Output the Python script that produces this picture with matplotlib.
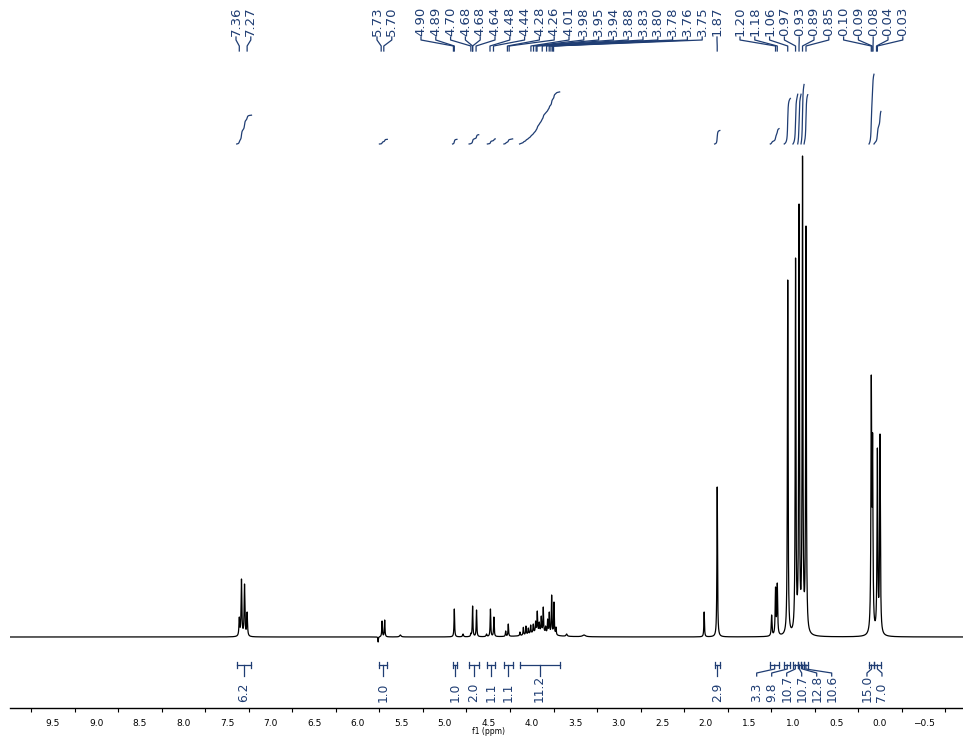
import matplotlib.pyplot as plt
import numpy as np

# 1H NMR peaks: position (ppm), apparent height, half width (ppm)
peak_ppm = [7.36, 7.335, 7.30, 7.27,
            5.765, 5.72, 5.69, 5.51,
            4.89, 4.79, 4.70, 4.68, 4.635, 4.52, 4.475, 4.435, 4.30, 4.27,
            4.136, 4.097, 4.067, 4.040, 4.013, 3.983, 3.956, 3.937, 3.914,
            3.891, 3.868, 3.841, 3.818, 3.799, 3.772, 3.745, 3.722, 3.60, 3.40,
            2.02, 1.87,
            1.245, 1.20, 1.18, 1.06, 0.97, 0.93, 0.89, 0.85,
            0.10, 0.085, 0.03, 0.00]
peak_height = [20, 58, 53, 25,
               -5, 16, 17, 2,
               28, 3, 4, 31, 27, 3, 28, 20, 6, 13,
               5, 9.7, 11, 9, 12, 13, 16, 26, 15,
               21, 30, 11, 18, 25, 42, 35, 10, 3, 2,
               25, 150,
               22, 50, 54, 357, 379, 433, 481, 411,
               262, 204, 189, 203]
peak_hwhm = [0.005, 0.005, 0.005, 0.005,
             0.003, 0.004, 0.004, 0.01,
             0.004, 0.006, 0.004, 0.004, 0.004, 0.006, 0.004, 0.004, 0.004, 0.004,
             0.004, 0.004, 0.004, 0.004, 0.004, 0.004, 0.004, 0.004, 0.004,
             0.004, 0.004, 0.004, 0.004, 0.004, 0.004, 0.004, 0.004, 0.008, 0.02,
             0.004, 0.004,
             0.005, 0.005, 0.005, 0.0045, 0.0045, 0.0045, 0.0045, 0.0045,
             0.005, 0.005, 0.005, 0.005]

# broad hump under the 3.7-4.1 multiplets
hump_ppm, hump_height, hump_hwhm = 3.92, 5.0, 0.12

# peak picking labels, in the groups they are fanned out in
peak_groups = [
    ["7.36", "7.27"],
    ["5.73", "5.70"],
    ["4.90", "4.89", "4.70", "4.68", "4.68", "4.64", "4.48", "4.44", "4.28", "4.26",
     "4.01", "3.98", "3.95", "3.94", "3.88", "3.83", "3.80", "3.78", "3.76", "3.75", "1.87"],
    ["1.20", "1.18", "1.06", "0.97", "0.93", "0.89", "0.85",
     "0.10", "0.09", "0.08", "0.04", "0.03"],
]

# integration regions (ppm) and values
int_from = [7.39, 5.75, 4.91, 4.72, 4.51, 4.32, 4.14, 1.90, 1.26, 1.10, 1.00, 0.945, 0.907, 0.872, 0.126, 0.069]
int_to = [7.22, 5.66, 4.86, 4.61, 4.42, 4.22, 3.68, 1.84, 1.16, 1.03, 0.945, 0.907, 0.872, 0.83, 0.069, -0.01]
int_value = [6.2, 1.0, 1.0, 2.0, 1.1, 1.1, 11.2, 2.9, 3.3, 9.8, 10.7, 10.7, 12.8, 10.6, 15.0, 7.0]

navy = "#1f3d73"
W, H = 963, 738
x_left, x_right = 9.994, -0.9535
ppp = 953 / (x_left - x_right)   # pixels per ppm
base = 637                        # baseline, pixels from top


def Y(ypix):
    return base - ypix


def to_px(p):
    return 10 + (x_left - p) * ppp


def to_ppm(px):
    return x_left - (px - 10) / ppp


def lor(x, c, w):
    return w**2 / ((x - c)**2 + w**2)


def spread(targets, gap):
    # push overlapping labels apart, each cluster centred on its targets
    clusters = [[t] for t in targets]
    changed = True
    while changed:
        changed = False
        pos = []
        for c in clusters:
            m = np.mean(c)
            pos.append([m + (i - (len(c) - 1) / 2) * gap for i in range(len(c))])
        for k in range(len(clusters) - 1):
            if pos[k][-1] + gap > pos[k + 1][0] + 1e-9:
                clusters[k] = clusters[k] + clusters.pop(k + 1)
                changed = True
                break
    out = []
    for c in clusters:
        m = np.mean(c)
        out += [m + (i - (len(c) - 1) / 2) * gap for i in range(len(c))]
    return out


# build the spectrum so that the peak tops sit at the read heights
pk = np.array(peak_ppm)
wd = np.array(peak_hwhm)
M = lor(pk[:, None], pk[None, :], wd[None, :])
target = np.array(peak_height) - hump_height * lor(pk, hump_ppm, hump_hwhm)
amps = np.linalg.solve(M, target)

ppm = np.linspace(10.0, -1.0, 44001)
spec = hump_height * lor(ppm, hump_ppm, hump_hwhm)
for c, w, a in zip(pk, wd, amps):
    spec += a * lor(ppm, c, w)

fig = plt.figure(figsize=(W / 100, H / 100), dpi=100)
ax = fig.add_axes([10 / W, 30 / H, 953 / W, 708 / H])
ax.plot(ppm, spec, color="black", lw=0.9)
ax.set_xlim(x_left, x_right)
ax.set_ylim(-71, 637)

# integral curves above the peaks
scale = 4.65
for a, b, v in zip(int_from, int_to, int_value):
    m = (ppm <= a) & (ppm >= b)
    cum = np.cumsum(spec[m])
    ax.plot(ppm[m], Y(144) + cum / cum[-1] * v * scale, color=navy, lw=0.9, clip_on=False)

# integral brackets and labels under the baseline
mids = [(a + b) / 2 for a, b in zip(int_from, int_to)]
lab_px = spread([to_px(m) for m in mids], 15)
for a, b, mid, lx, v in zip(int_from, int_to, mids, lab_px, int_value):
    kw = dict(color=navy, lw=0.9, clip_on=False)
    ax.plot([a, b], [Y(665), Y(665)], **kw)
    ax.plot([a, a], [Y(662), Y(668)], **kw)
    ax.plot([b, b], [Y(662), Y(668)], **kw)
    lp = to_ppm(lx)
    ax.plot([mid, mid, lp, lp], [Y(665), Y(669), Y(673), Y(676)], **kw)
    ax.text(lp, Y(702), f"{v:.1f}", rotation=90, ha="center", va="bottom",
            color=navy, fontsize=8.8)

# peak labels along the top
group_start = [236, 377, 421, 740]
for labels, start in zip(peak_groups, group_start):
    for i, s in enumerate(labels):
        lp = to_ppm(start + i * 14.8)
        p = float(s)
        ax.plot([lp, lp, p, p], [Y(37), Y(40), Y(46), Y(51)], color=navy, lw=0.9, clip_on=False)
        ax.text(lp, Y(36), s, rotation=90, ha="center", va="bottom",
                color=navy, fontsize=9.5)

for side in ["top", "left", "right"]:
    ax.spines[side].set_visible(False)
ax.spines["bottom"].set_linewidth(1.0)
ax.set_yticks([])
ticks = np.arange(-0.5, 9.51, 0.5)
ax.set_xticks(ticks)
ax.set_xticklabels([f"{t:.1f}".replace("-", "\u2212") for t in ticks])
ax.set_xticks(np.arange(-0.75, 9.8, 0.5), minor=True)
ax.tick_params(axis="x", which="major", length=0, pad=8, labelsize=6.5)
ax.tick_params(axis="x", which="minor", length=3, width=0.8, direction="out")
fig.text(488 / W, 1 - 731 / H, "f1 (ppm)", ha="center", va="center", fontsize=5.5)

fig.savefig("out.png", dpi=100)
